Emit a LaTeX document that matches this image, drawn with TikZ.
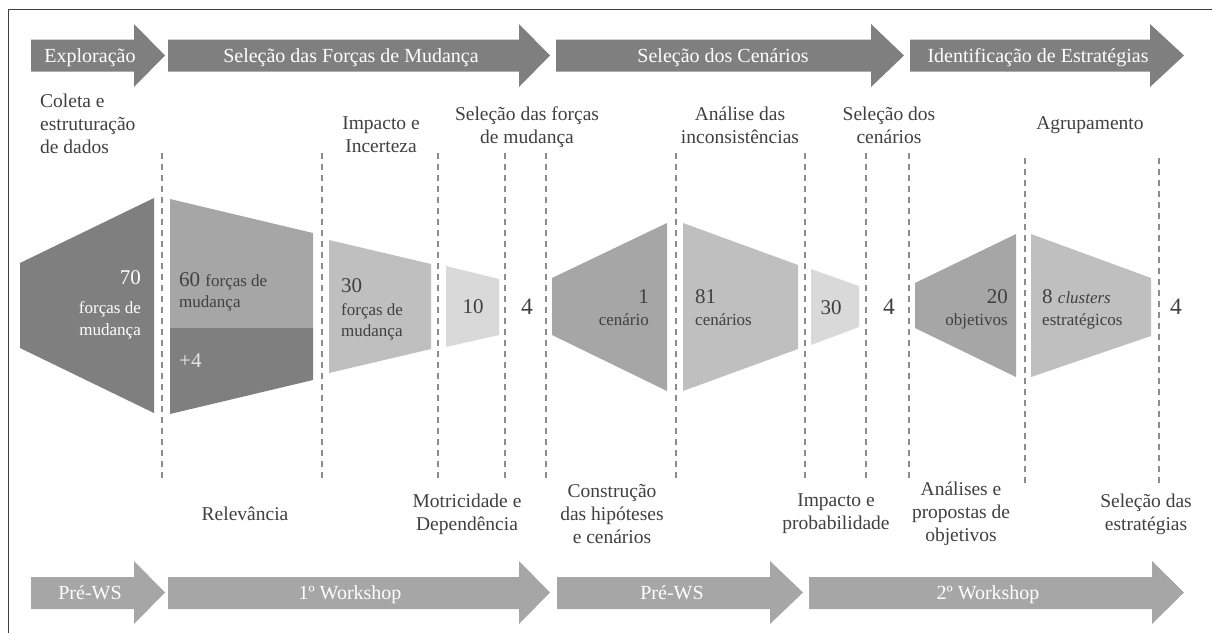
\documentclass[tikz,border=0pt]{standalone}
\usepackage{fontspec}
\setmainfont{Liberation Serif}
\definecolor{escuro}{HTML}{7F7F7F}
\definecolor{medio}{HTML}{A6A6A6}
\definecolor{claro}{HTML}{BFBFBF}
\definecolor{clarinho}{HTML}{D9D9D9}
\definecolor{texto}{HTML}{404040}
\definecolor{tracejado}{HTML}{8C8C8C}
\begin{document}
\begin{tikzpicture}[x=1pt,y=-1pt,
  fase/.style={fill=escuro},ws/.style={fill=medio},
  seta/.style={text=white,font=\fontsize{20}{22}\selectfont,anchor=base,inner sep=0},
  rotulo/.style={text=texto,font=\fontsize{19.5}{23}\selectfont,align=center,inner sep=0},
  num/.style={text=texto,font=\fontsize{21}{24}\selectfont,anchor=base,inner sep=0},
  sozinho/.style={num,font=\fontsize{23.5}{26}\selectfont},
  pequeno/.style={text=texto,font=\fontsize{17}{22}\selectfont,anchor=base,inner sep=0},
  divisa/.style={tracejado,line width=1.3pt,dash pattern=on 5.5pt off 5.5pt}]
\useasboundingbox (0,0) rectangle (1212,633);
\draw[texto,line width=1pt] (8,633)--(8,9)--(1212,9);
% fases (topo)
\fill[fase] (31,39.5)--(134,39.5)--(134,24)--(165,55.5)--(134,87)--(134,71.5)--(31,71.5)--cycle;
\fill[fase] (168,39.5)--(519,39.5)--(519,24)--(550,55.5)--(519,87)--(519,71.5)--(168,71.5)--cycle;
\fill[fase] (556,39.5)--(871,39.5)--(871,24)--(904,55.5)--(871,87)--(871,71.5)--(556,71.5)--cycle;
\fill[fase] (910,39.5)--(1150,39.5)--(1150,24)--(1184,55.5)--(1150,87)--(1150,71.5)--(910,71.5)--cycle;
\node[seta] (explor) at (90,62) {Exploração};
\node[seta] (forcas) at (351,62) {Seleção das Forças de Mudança};
\node[seta] (cenar) at (723,62) {Seleção dos Cenários};
\node[seta] (estrat) at (1038,62) {Identificação de Estratégias};
% workshops (base)
\fill[ws] (31,577)--(134,577)--(134,561)--(165,592.5)--(134,624)--(134,609)--(31,609)--cycle;
\fill[ws] (168,577)--(519,577)--(519,561)--(550,592.5)--(519,624)--(519,609)--(168,609)--cycle;
\fill[ws] (557,577)--(770,577)--(770,561)--(803,592.5)--(770,624)--(770,609)--(557,609)--cycle;
\fill[ws] (809,577)--(1152,577)--(1152,561)--(1184,592.5)--(1152,624)--(1152,609)--(809,609)--cycle;
\node[seta] (prea) at (90,599) {Pré-WS};
\node[seta] (wsa) at (350,599) {1º Workshop};
\node[seta] (preb) at (672,599) {Pré-WS};
\node[seta] (wsb) at (988,599) {2º Workshop};
% divisas
\draw[divisa] (162,153)--(162,481) (322,153)--(322,481) (438,153)--(438,481)
  (505,153)--(505,481) (546,153)--(546,481);
\draw[divisa] (676,153)--(676,481) (805,153)--(805,481) (866,153)--(866,481)
  (909,153)--(909,481);
\draw[divisa] (1025,158)--(1025,483) (1159,158)--(1159,483);
% funil
\fill[escuro] (20,263)--(154,198)--(154,413)--(20,348)--cycle;
\fill[medio] (170,199)--(313,233)--(313,328)--(170,328)--cycle;
\fill[escuro] (170,328)--(313,328)--(313,380)--(170,414)--cycle;
\fill[claro] (329,240)--(431,264)--(431,349)--(329,373)--cycle;
\fill[clarinho] (446,266)--(499,279)--(499,335)--(446,347)--cycle;
\fill[medio] (552,278)--(667,223)--(667,391)--(552,335)--cycle;
\fill[claro] (683,223)--(798,265)--(798,349)--(683,391)--cycle;
\fill[clarinho] (811,269)--(859,286)--(859,327)--(811,345)--cycle;
\fill[medio] (915,283)--(1016,234)--(1016,377)--(915,328)--cycle;
\fill[claro] (1031,234)--(1151,278)--(1151,336)--(1031,377)--cycle;
% numeros
\node[num,anchor=base east,text=white] (n70) at (141,284.5) {70};
\node[pequeno,anchor=base east,text=white] (f70a) at (141,313) {forças de};
\node[pequeno,anchor=base east,text=white] (f70b) at (141,335) {mudança};
\node[num,anchor=base west] (n60) at (179,286.5) {60 {\fontsize{17}{22}\selectfont forças de}};
\node[pequeno,anchor=base west] (f60) at (179,307) {mudança};
\node[num,anchor=base west,text=white!90!black] (mais4) at (179,367.5) {+4};
\node[num,anchor=base west] (n30) at (341,292.5) {30};
\node[pequeno,anchor=base west] (f30a) at (341,315) {forças de};
\node[pequeno,anchor=base west] (f30b) at (341,336) {mudança};
\node[num] (n10) at (473,313.5) {10};
\node[sozinho] (q1) at (527,314) {4};
\node[num,anchor=base east] (n1) at (649,303.5) {1};
\node[pequeno,anchor=base east] (f1) at (649,325) {cenário};
\node[num,anchor=base west] (n81) at (695,303.5) {81};
\node[pequeno,anchor=base west] (f81) at (695,325) {cenários};
\node[num] (n30b) at (831,314.5) {30};
\node[sozinho] (q2) at (889,314.5) {4};
\node[num,anchor=base east] (n20) at (1008,303.5) {20};
\node[pequeno,anchor=base east] (f20) at (1008,325) {objetivos};
\node[num,anchor=base west] (n8) at (1042,303.5) {8 {\fontsize{17}{22}\selectfont\itshape clusters}};
\node[pequeno,anchor=base west] (f8) at (1042,325) {estratégicos};
\node[sozinho] (q3) at (1176,314.5) {4};
% rotulos
\node[rotulo,align=left,anchor=west] (coleta) at (40,124) {Coleta e\\estruturação\\de dados};
\node[rotulo] (impinc) at (381,135) {Impacto e\\Incerteza};
\node[rotulo] (selforc) at (527,127) {Seleção das forças\\de mudança};
\node[rotulo] (analise) at (740,125) {Análise das\\inconsistências};
\node[rotulo] (selcen) at (889,125) {Seleção dos\\cenários};
\node[rotulo] (agrup) at (1090,125) {Agrupamento};
\node[rotulo] (relev) at (245,514) {Relevância};
\node[rotulo] (motric) at (467,514) {Motricidade e\\Dependência};
\node[rotulo] (constr) at (612,514) {Construção\\das hipóteses\\e cenários};
\node[rotulo] (impprob) at (836,514) {Impacto e\\probabilidade};
\node[rotulo] (propost) at (961,514) {Análises e\\propostas de\\objetivos};
\node[rotulo] (selestr) at (1146,514) {Seleção das\\estratégias};
\end{tikzpicture}
\end{document}
